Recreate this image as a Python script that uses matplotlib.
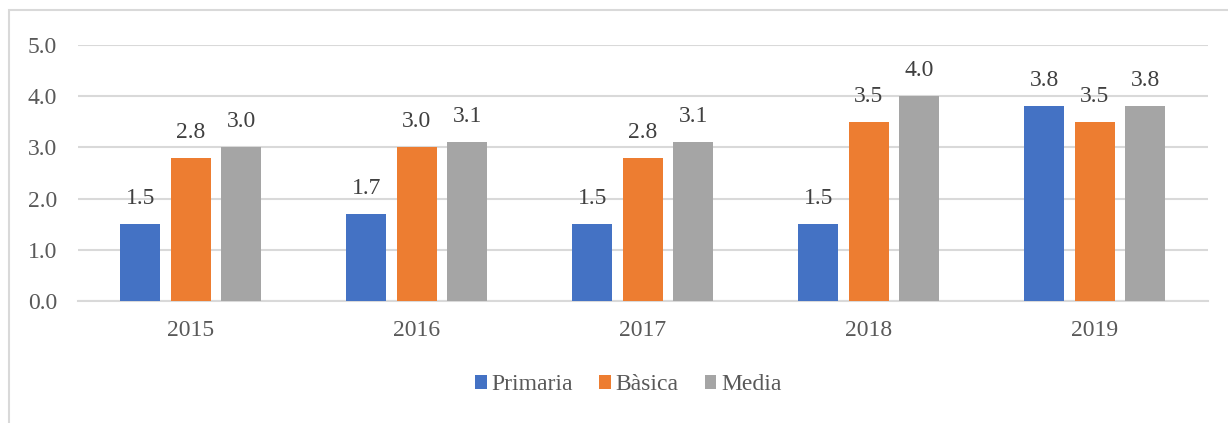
import matplotlib.pyplot as plt
import numpy as np
from matplotlib.patches import Rectangle

years = ["2015", "2016", "2017", "2018", "2019"]
primaria = [1.5, 1.7, 1.5, 1.5, 3.8]
basica = [2.8, 3.0, 2.8, 3.5, 3.5]
media = [3.0, 3.1, 3.1, 4.0, 3.8]

series = [("Primaria", primaria, "#4472C4"),
          ("Bàsica", basica, "#ED7D31"),
          ("Media", media, "#A5A5A5")]

plt.rcParams["font.family"] = "Liberation Serif"
text_color = "#595959"

fig = plt.figure(figsize=(12.28, 4.23), dpi=100)
ax = fig.add_axes([0.0635, 0.2884, 0.9202, 0.6052])

# chart border (cropped on right and bottom)
fig.patches.append(Rectangle((9 / 1228, -0.1), 1.2, 1 - 10 / 423 + 0.1,
                             transform=fig.transFigure, fill=False,
                             edgecolor="#d9d9d9", linewidth=1.5))

x = np.arange(len(years))
width = 0.177
step = 0.2235
for i, (name, vals, color) in enumerate(series):
    bars = ax.bar(x + (i - 1) * step, vals, width, color=color, label=name, zorder=3)
    for b, v in zip(bars, vals):
        ax.annotate(f"{v:.1f}", (b.get_x() + b.get_width() / 2, v),
                    xytext=(0, 14.4), textcoords="offset points",
                    ha="center", va="baseline", fontsize=17, color="#404040")

ax.set_xlim(-0.5, len(years) - 0.5)
ax.set_ylim(0, 5)
ax.set_yticks(np.arange(0, 5.1, 1))
ax.set_yticklabels([f"{t:.1f}" for t in np.arange(0, 5.1, 1)])
ax.set_xticks(x)
ax.set_xticklabels(years)
ax.tick_params(axis="both", length=0, labelsize=17, labelcolor=text_color)
ax.tick_params(axis="y", pad=15)
ax.tick_params(axis="x", pad=14)
ax.grid(axis="y", color="#d9d9d9", linewidth=1.5, zorder=0)
for s in ["top", "right", "left"]:
    ax.spines[s].set_visible(False)
ax.spines["bottom"].set_color("#d9d9d9")
ax.spines["bottom"].set_linewidth(1.5)

leg = fig.legend(loc="center", bbox_to_anchor=(0.5117, 0.09), ncol=3, frameon=False,
                 fontsize=17, handlelength=0.5, handleheight=0.5, handletextpad=0.2,
                 columnspacing=1.1)
for t in leg.get_texts():
    t.set_color(text_color)

fig.savefig("out.png", dpi=100)
